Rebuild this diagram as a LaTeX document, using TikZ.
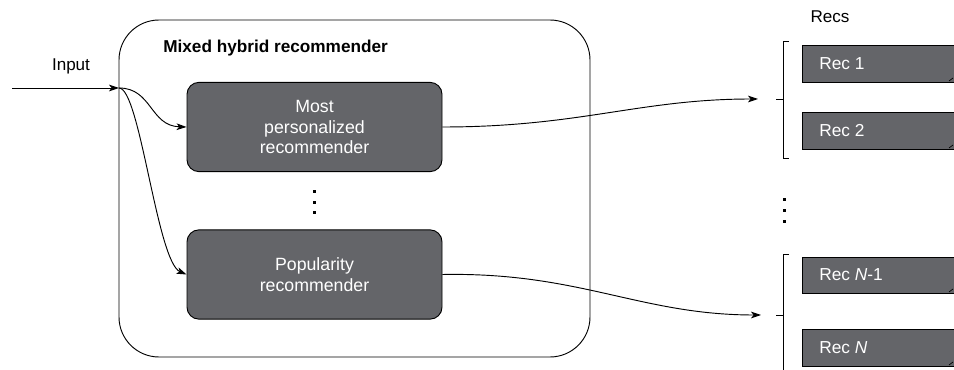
\documentclass[tikz,border=0pt]{standalone}
\usepackage{fontspec}
\setmainfont{Liberation Sans}
\usetikzlibrary{arrows.meta}
\definecolor{boxgray}{RGB}{100,101,105}

\begin{document}
\begin{tikzpicture}[x=0.75pt,y=0.75pt,yscale=-1,xscale=1,
  flow/.style={-{Stealth[length=7.5pt,width=5pt,inset=2pt]}, line width=0.7pt},
  engine/.style={draw=black, fill=boxgray, text=white, rounded corners=9pt, line width=0.7pt,
    minimum width=191.25pt, minimum height=67pt, align=center, inner sep=0pt,
    font=\fontsize{13.3}{15.5}\selectfont},
  recbox/.style={draw=black, fill=boxgray, line width=0.7pt},
  rectext/.style={anchor=west, text=white, inner sep=0pt, font=\fontsize{13}{15}\selectfont},
  label/.style={inner sep=0pt, font=\fontsize{12.8}{15}\selectfont}]
\useasboundingbox (0,0) rectangle (954,370);

% mixed hybrid container
\node [draw=black, rounded corners=30pt, line width=0.7pt, minimum width=353.25pt, minimum height=252.75pt, inner sep=0pt] (mixer) at (354.5,188.5) {};
\node [anchor=west, inner sep=0pt, font=\fontsize{12.9}{15}\selectfont\bfseries] (title) at (163,48) {Mixed hybrid recommender};

% recommenders
\node [engine] (pers) at (314.5,127) {Most\\personalized\\recommender};
\node [engine] (pop) at (314.5,274.5) {Popularity\\recommender};
\foreach \y in {192,203,213}
  \fill (312.5,\y-1.5) rectangle ++(3,3);

% input
\node [label] (inlabel) at (71,66) {Input};
\coordinate (in) at (12,88);
\coordinate (split) at (119,88);
\draw [flow] (in) -- (split);
\draw [flow] (split) .. controls (152,88) and (150,126) .. (pers.west);
\draw [flow] (split) .. controls (140,88) and (157,262) .. (pop.west);

% outputs
\coordinate (top) at (758,99);
\coordinate (bot) at (761,315);
\draw [flow] (pers.east) .. controls (580,127) and (640,99) .. (top);
\draw [flow] (pop.east) .. controls (580,272) and (640,315) .. (bot);

% recs lists
\node [label] (recs) at (830,17) {Recs};
\draw [line width=0.7pt] (789,41) -- (783,41) -- (783,158) -- (789,158);
\draw [line width=0.7pt] (776,99) -- (783,99);
\draw [line width=0.7pt] (789,254) -- (783,254) -- (783,375);
\draw [line width=0.7pt] (776,315) -- (783,315);
\foreach \y in {200,211,222}
  \fill (782.5,\y-1.5) rectangle ++(3,3);

\draw [recbox] (802,45) rectangle (957,82);
\draw [recbox] (802,112) rectangle (957,149);
\draw [recbox] (802,257) rectangle (957,293);
\draw [recbox] (802,329) rectangle (957,366);
\foreach \y in {82,149,293,366}
  \draw [black, line width=0.5pt] (949,\y-1) .. controls (951,\y-3) .. (953,\y-4);
\node [rectext] (rec1) at (819,63.5) {Rec 1};
\node [rectext] (rec2) at (819,130.5) {Rec 2};
\node [rectext] (recn1) at (819,275) {Rec \textit{N}-1};
\node [rectext] (recn) at (819,347.5) {Rec \textit{N}};
\end{tikzpicture}
\end{document}
